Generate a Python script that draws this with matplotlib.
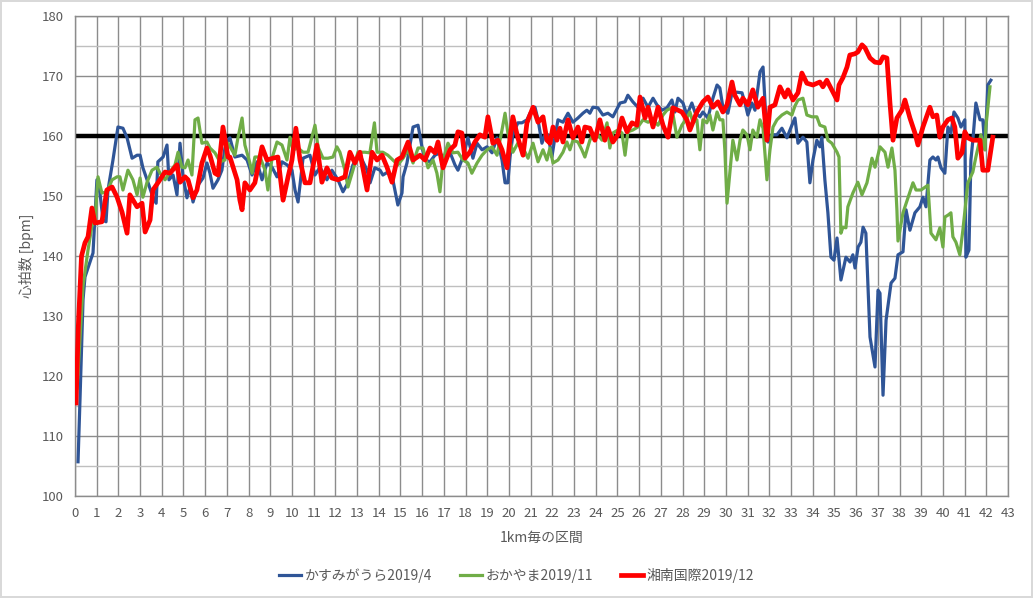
import matplotlib.pyplot as plt
from matplotlib.ticker import MultipleLocator

plt.rcParams['font.family'] = ['Noto Sans CJK JP', 'DejaVu Sans']

# ---------------- Data (km, bpm) ----------------

blue_label = "かすみがうら2019/4"
blue_km = [0.14, 0.23, 0.37, 0.46, 0.69, 0.83, 1.01, 1.15, 1.29, 1.43, 1.52, 1.75, 1.98, 2.21, 2.4, 2.63, 2.86, 3.0, 3.13, 3.36,
           3.59, 3.74, 3.82, 4.06, 4.24, 4.33, 4.52, 4.7, 4.84, 4.98, 5.16, 5.3, 5.44, 5.67, 5.9, 6.08, 6.22, 6.36, 6.59, 6.77,
           6.91, 7.05, 7.14, 7.37, 7.7, 7.93, 8.16, 8.39, 8.62, 8.85, 9.08, 9.31, 9.54, 9.77, 10.0, 10.14, 10.28, 10.51, 10.83, 11.06,
           11.29, 11.61, 11.84, 12.12, 12.35, 12.58, 12.81, 13.13, 13.46, 13.6, 13.82, 14.06, 14.19, 14.42, 14.65, 14.88, 15.07, 15.12, 15.3, 15.58,
           15.81, 15.99, 16.13, 16.36, 16.59, 16.82, 17.05, 17.28, 17.51, 17.65, 17.88, 18.11, 18.34, 18.53, 18.76, 18.99, 19.22, 19.45, 19.68, 19.82,
           19.95, 20.05, 20.18, 20.41, 20.6, 20.83, 20.97, 21.2, 21.34, 21.52, 21.66, 21.8, 21.98, 22.12, 22.26, 22.49, 22.72, 22.95, 23.18, 23.41,
           23.59, 23.73, 23.87, 24.1, 24.33, 24.56, 24.79, 25.12, 25.35, 25.48, 25.71, 25.94, 26.18, 26.41, 26.64, 26.82, 27.05, 27.28, 27.51, 27.65,
           27.79, 28.02, 28.2, 28.43, 28.57, 28.8, 28.94, 29.17, 29.4, 29.59, 29.72, 29.86, 30.09, 30.28, 30.51, 30.74, 30.88, 31.01, 31.2, 31.34,
           31.57, 31.71, 31.89, 31.94, 32.12, 32.35, 32.58, 32.81, 33.04, 33.18, 33.32, 33.55, 33.73, 33.87, 34.01, 34.19, 34.33, 34.42, 34.56, 34.7,
           34.84, 34.98, 35.12, 35.3, 35.53, 35.72, 35.85, 35.95, 36.09, 36.22, 36.32, 36.45, 36.64, 36.87, 37.01, 37.1, 37.24, 37.38, 37.61, 37.79,
           37.93, 38.16, 38.3, 38.48, 38.71, 38.94, 39.08, 39.22, 39.4, 39.54, 39.68, 39.77, 39.91, 40.09, 40.23, 40.37, 40.51, 40.69, 40.83, 41.01,
           41.06, 41.2, 41.29, 41.38, 41.52, 41.71, 41.84, 41.94, 42.07, 42.21]
blue_bpm = [105.7, 116, 132.7, 136.5, 139, 140.5, 152.7, 150.5, 146, 145.7, 151, 156, 161.5, 161.3, 159.7, 156.3, 156.8, 156.8, 154.7, 152.3,
            149.8, 148.8, 155.7, 156.5, 158.5, 152.7, 153.5, 150.2, 158.8, 153.2, 149.7, 151.5, 149, 151.8, 153, 155.5, 153.8, 151.3, 152.7, 154.3,
            158, 159.3, 159.7, 156.5, 156.8, 156, 153.5, 155.7, 152.7, 155.5, 154.8, 153.2, 155.7, 155.2, 154.3, 151, 149, 156.3, 156.8, 153.5,
            154.8, 152.7, 154.3, 152.7, 150.7, 152.2, 155.2, 156.8, 154.3, 152.2, 154.7, 154.3, 153.5, 154, 152.7, 148.5, 150.5, 153.2, 155.5, 161.5,
            161.8, 158.2, 156, 155.7, 156.8, 157.2, 156, 157.3, 155.2, 154.3, 156.5, 159.7, 156.3, 158.8, 157.7, 158.2, 157.2, 159.7, 156, 152.2,
            152.2, 156.5, 160.2, 162.2, 162.2, 162.7, 163.8, 164.8, 162.7, 158.8, 160.2, 160.2, 156.5, 159.8, 162.7, 162.3, 163.8, 162.3, 163, 163.8,
            164.3, 163.8, 164.8, 164.7, 163.5, 163.8, 163.2, 165.5, 165.7, 166.8, 165.7, 164.8, 166.3, 164.8, 166.3, 165.2, 164.3, 164.7, 166, 164,
            166.3, 165.5, 163.5, 165.5, 164, 163.2, 164, 163, 166.3, 168.5, 168, 164.8, 163.8, 167.2, 167.3, 167.2, 165.5, 163.5, 165.5, 164.3,
            170.7, 171.5, 159.8, 159, 160.2, 160.2, 161.3, 159.7, 161.8, 163, 158.8, 159.8, 159, 152.2, 156, 159.3, 158.2, 159.8, 152.7, 147.2,
            139.8, 139.3, 143, 136, 139.8, 139, 140.2, 138, 141.5, 142.3, 144.8, 143.8, 126.5, 121.5, 134.3, 133.8, 116.8, 129.3, 135.5, 136.3,
            140.2, 140.7, 147.7, 144.3, 147.2, 148.2, 149.8, 148.2, 156, 156.5, 156, 156.5, 154.7, 153.8, 161.5, 160.5, 164, 163, 161.5, 162.7,
            139.8, 141, 156, 159.3, 165.5, 162.7, 162.7, 157.7, 168.5, 169.3]

green_label = "おかやま2019/11"
green_km = [0.1, 0.37, 0.6, 0.78, 0.92, 1.06, 1.24, 1.47, 1.71, 1.94, 2.07, 2.21, 2.44, 2.67, 2.86, 3.0, 3.13, 3.32, 3.55, 3.78,
            3.92, 4.15, 4.38, 4.61, 4.75, 4.93, 5.07, 5.21, 5.39, 5.53, 5.67, 5.85, 6.08, 6.22, 6.45, 6.68, 6.91, 7.05, 7.37, 7.51,
            7.7, 7.83, 8.06, 8.16, 8.29, 8.53, 8.76, 8.89, 9.08, 9.31, 9.54, 9.77, 9.91, 10.05, 10.28, 10.51, 10.74, 11.06, 11.2, 11.43,
            11.66, 11.89, 12.07, 12.21, 12.44, 12.58, 12.81, 13.04, 13.36, 13.59, 13.8, 13.92, 14.19, 14.42, 14.65, 14.88, 15.12, 15.35, 15.58, 15.81,
            16.04, 16.27, 16.5, 16.68, 16.82, 16.96, 17.19, 17.42, 17.65, 17.88, 18.11, 18.29, 18.53, 18.76, 18.99, 19.22, 19.45, 19.68, 19.82, 19.95,
            20.18, 20.41, 20.65, 20.88, 21.11, 21.34, 21.57, 21.75, 21.89, 22.03, 22.26, 22.49, 22.67, 22.81, 22.95, 23.18, 23.36, 23.5, 23.73, 23.87,
            24.1, 24.29, 24.52, 24.65, 24.79, 25.02, 25.21, 25.35, 25.48, 25.71, 25.94, 26.18, 26.41, 26.64, 26.87, 27.1, 27.28, 27.51, 27.74, 27.88,
            27.97, 28.2, 28.34, 28.48, 28.66, 28.8, 28.94, 29.12, 29.26, 29.4, 29.59, 29.72, 29.86, 29.95, 30.05, 30.18, 30.32, 30.51, 30.65, 30.78,
            30.97, 31.11, 31.24, 31.43, 31.57, 31.71, 31.89, 32.03, 32.17, 32.35, 32.58, 32.81, 33.04, 33.18, 33.32, 33.55, 33.73, 33.96, 34.19, 34.33,
            34.56, 34.7, 34.88, 35.12, 35.21, 35.3, 35.39, 35.53, 35.62, 35.85, 36.08, 36.27, 36.5, 36.73, 36.87, 37.1, 37.33, 37.47, 37.65, 37.79,
            37.88, 37.93, 38.16, 38.39, 38.62, 38.76, 38.99, 39.31, 39.45, 39.68, 39.86, 40.0, 40.09, 40.23, 40.37, 40.46, 40.6, 40.78, 40.92, 41.15,
            41.38, 41.52, 41.75, 41.94, 41.98, 42.17]
green_bpm = [118, 135, 141, 145, 146, 153.2, 150.5, 150.7, 152.7, 153.2, 153.2, 151, 154.3, 152.7, 150.2, 153, 149.8, 152.3, 154.3, 154.8,
             153.8, 152.7, 154, 155.2, 157.3, 154.8, 154.7, 156, 153.5, 162.7, 163, 158.8, 159, 158, 157.2, 155.7, 156, 158.8, 156.8, 159.7,
             163, 158.5, 155.5, 153.8, 156.5, 156.5, 154.3, 151, 156.3, 159, 158.5, 156, 159.8, 157.7, 158, 157.3, 157.3, 161.8, 158.2, 156.3,
             156.3, 156.5, 158.2, 157.3, 154.3, 151.5, 154.3, 157.3, 157.3, 157.2, 162.2, 157.3, 157.3, 156.8, 156, 155.2, 156.3, 157.7, 155.5, 158,
             158, 154.7, 156, 153.8, 150.7, 156, 158.8, 157.2, 157.3, 156, 155.5, 153.8, 155.5, 156.8, 157.7, 158.2, 156.8, 161, 163.8, 160.5,
             157.3, 158.8, 158, 156.3, 158.8, 155.7, 157.7, 156, 158, 155.5, 156, 157.3, 159, 157.7, 159.3, 159, 157.7, 156.5, 159.3, 160.2,
             160.2, 159.3, 162.2, 158, 160.5, 161, 160.5, 156.8, 160.7, 161, 161.5, 162.7, 162.3, 162.7, 161.8, 163.5, 164.3, 164.7, 159.8, 161,
             161.8, 163, 164, 162.3, 162.7, 157.7, 162.7, 162.2, 163.5, 161, 164, 162.7, 162.7, 157.7, 148.8, 153.8, 159.3, 156, 159.3, 161,
             160.2, 157.7, 161, 159.8, 162.7, 161.3, 152.7, 157.7, 161.5, 162.7, 163.5, 164, 163.5, 165, 166, 166.3, 163.5, 163.2, 163.2, 161.8,
             161.5, 159.3, 158.8, 157.3, 156.5, 143.8, 144.8, 144.7, 148.2, 150.5, 152.3, 150.2, 152.2, 156.3, 154.8, 158.2, 157.3, 154.8, 158, 154.3,
             147.7, 142.5, 147.2, 149.7, 152.2, 151, 151, 151.8, 143.8, 142.7, 144.7, 141.5, 146.5, 146.8, 147.2, 143.2, 142.3, 140.2, 144.3, 152.2,
             154, 156.5, 160.2, 157.7, 161.5, 168.2]

red_label = "湘南国際2019/12"
red_km = [0.05, 0.15, 0.3, 0.46, 0.6, 0.78, 0.92, 1.24, 1.47, 1.71, 1.94, 2.17, 2.4, 2.53, 2.86, 3.09, 3.23, 3.46, 3.59, 3.82,
          4.15, 4.38, 4.7, 4.84, 5.07, 5.21, 5.44, 5.62, 5.85, 6.08, 6.22, 6.45, 6.59, 6.82, 7.05, 7.14, 7.47, 7.6, 7.7, 7.83,
          8.06, 8.29, 8.62, 8.85, 9.12, 9.35, 9.59, 9.82, 10.0, 10.18, 10.37, 10.6, 10.83, 11.15, 11.38, 11.61, 11.84, 12.12, 12.44, 12.67,
          12.9, 13.13, 13.46, 13.69, 13.92, 14.15, 14.38, 14.61, 14.84, 15.07, 15.35, 15.58, 15.9, 16.13, 16.36, 16.59, 16.73, 16.96, 17.28, 17.51,
          17.65, 17.83, 17.97, 18.2, 18.43, 18.66, 18.89, 19.03, 19.26, 19.49, 19.68, 19.91, 20.05, 20.18, 20.41, 20.65, 20.83, 21.11, 21.34, 21.57,
          21.75, 21.89, 22.03, 22.21, 22.35, 22.49, 22.72, 22.95, 23.18, 23.36, 23.5, 23.73, 23.96, 24.19, 24.42, 24.56, 24.79, 25.02, 25.21, 25.44,
          25.67, 25.9, 26.04, 26.27, 26.41, 26.64, 26.87, 27.1, 27.33, 27.56, 27.97, 28.2, 28.34, 28.66, 28.94, 29.17, 29.4, 29.63, 29.86, 30.05,
          30.28, 30.41, 30.65, 30.78, 31.01, 31.24, 31.47, 31.71, 31.89, 32.03, 32.26, 32.49, 32.72, 32.86, 33.09, 33.32, 33.5, 33.73, 34.01, 34.33,
          34.47, 34.65, 34.88, 35.12, 35.21, 35.39, 35.58, 35.71, 35.94, 36.08, 36.27, 36.41, 36.64, 36.87, 37.1, 37.24, 37.42, 37.56, 37.7, 37.88,
          38.11, 38.25, 38.48, 38.71, 38.85, 39.08, 39.4, 39.54, 39.72, 39.86, 40.0, 40.23, 40.41, 40.55, 40.69, 40.88, 41.01, 41.15, 41.38, 41.71,
          41.84, 42.07, 42.3]
red_bpm = [115.5, 128, 140, 142.2, 143.2, 148, 145.5, 145.7, 151, 151.5, 149.8, 147.3, 143.8, 150.2, 148.2, 148.8, 144, 146, 151, 152.2,
           154, 153.8, 155.2, 152.3, 153.2, 152.7, 149.7, 151, 155.5, 158, 156.8, 153.8, 153.5, 161.5, 156.5, 156.5, 152.7, 149.3, 147.7, 152.2,
           151, 152.2, 158.2, 156, 156.3, 156.5, 149.3, 153.2, 156, 161.3, 156, 152.2, 152.2, 158.5, 152.3, 154.7, 153, 152.7, 153.2, 157.3,
           155.5, 157.3, 151, 157.3, 156, 156.8, 154.8, 152.3, 156, 156.5, 159, 156, 156.8, 156, 158, 157.2, 159, 154.7, 157.7, 158.5,
           160.7, 160.5, 156.3, 157.3, 159, 160.2, 159.8, 163.2, 158.8, 159.3, 157.7, 154.7, 159.7, 163.2, 159.7, 156.8, 162.2, 164.8, 162.3, 163.2,
           159.3, 158.8, 161.5, 159.3, 161.3, 159, 162.7, 159.7, 161.5, 159, 161.5, 161.3, 159.3, 162.7, 159.3, 161.3, 159, 160.2, 163, 160.7,
           162.2, 161.8, 166.5, 163, 164.8, 161.5, 164.8, 161.8, 159.8, 164.7, 164, 162.7, 161, 164, 165.7, 166.5, 164.8, 165.7, 164, 165.2,
           169, 166.8, 165.2, 166.3, 165.2, 167.7, 164.8, 166.3, 159.3, 164.8, 165.2, 168.2, 166.5, 167.7, 166, 167.2, 170.5, 168.8, 168.5, 169,
           168.2, 169.3, 167.7, 166, 168.5, 169.7, 171.5, 173.5, 173.7, 174, 175.2, 174.7, 173, 172.3, 172.2, 173.2, 173, 165.5, 159.3, 163,
           164.3, 166, 163, 160.5, 158.5, 161.5, 164.8, 163.2, 163.5, 159.8, 161.5, 162.7, 163, 161.5, 156.3, 157.2, 160.7, 159.7, 159.3, 159.3,
           154.3, 154.3, 159.8]

target_bpm = 160
x_ticks = list(range(0, 44))

# ---------------- Chart ----------------

fig = plt.figure(figsize=(10.33, 5.98), dpi=100, edgecolor="#D9D9D9", linewidth=1.5)
ax = fig.add_axes([0.0726, 0.1706, 0.9032, 0.8026])

grid_c = "#8C8C8C"
ax.set_xlim(0, 43)
ax.set_ylim(100, 180)
ax.xaxis.set_major_locator(MultipleLocator(1))
ax.yaxis.set_major_locator(MultipleLocator(10))
ax.yaxis.set_minor_locator(MultipleLocator(5))
ax.grid(which="major", axis="both", color=grid_c, linewidth=1.0)
ax.grid(which="minor", axis="y", color="#BFBFBF", linewidth=1.0)
ax.set_axisbelow(True)
for s in ax.spines.values():
    s.set_color(grid_c)
    s.set_linewidth(1.0)

ax.axhline(target_bpm, color="black", linewidth=3.2, zorder=2)

ax.plot(blue_km, blue_bpm, color="#2F5597", linewidth=2.3, label=blue_label, zorder=3)
ax.plot(green_km, green_bpm, color="#70AD47", linewidth=2.3, label=green_label, zorder=4)
ax.plot(red_km, red_bpm, color="#FF0000", linewidth=3.4, label=red_label, zorder=5)

ax.set_xticks(x_ticks)
ax.tick_params(axis="both", which="both", length=0, labelsize=9.5, colors="#595959", pad=8)
ax.set_xlabel("1km毎の区間", fontsize=10, color="#595959", labelpad=8)
ax.set_ylabel("心拍数 [bpm]", fontsize=10, color="#595959", labelpad=6)

fig.legend(loc="lower center", bbox_to_anchor=(0.5, 0.005), ncol=3, frameon=False,
           fontsize=10, handlelength=1.6, handletextpad=0.25, columnspacing=2.0,
           labelcolor="#595959")

plt.savefig("out.png", dpi=100)
plt.close()
